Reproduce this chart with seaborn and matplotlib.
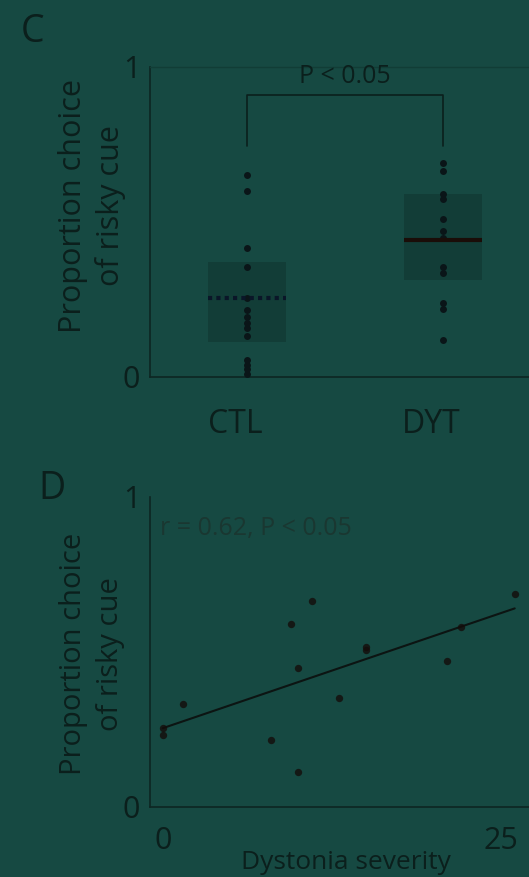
import numpy as np
import pandas as pd
import seaborn as sns
import matplotlib
matplotlib.use("Agg")
import matplotlib.pyplot as plt
from matplotlib.transforms import ScaledTranslation

# ---------------- data ----------------
groups = ["CTL", "DYT"]
ctl_values = [0.652, 0.60, 0.417, 0.356, 0.254, 0.215, 0.195, 0.175, 0.158,
              0.133, 0.055, 0.04, 0.025, 0.01]
dyt_values = [0.69, 0.665, 0.59, 0.575, 0.51, 0.47, 0.45, 0.355, 0.335,
              0.24, 0.218, 0.12]
box_center = [0.254, 0.442]
box_low = [0.114, 0.313]
box_high = [0.37, 0.59]
bracket_low = 0.745
bracket_high = 0.91

severity = [0, 0, 1.5, 8, 9.5, 10, 10, 11, 13, 15, 15, 21, 22, 26]
risky = [0.254, 0.232, 0.331, 0.216, 0.59, 0.447, 0.114, 0.666, 0.353,
         0.517, 0.506, 0.472, 0.582, 0.687]

# ---------------- style ----------------
BG = "#164942"
BOX = "#123d37"
DARK = "#0b1f1c"
SPINE = "#0d2622"

sns.set_theme(style="white")
plt.rcParams["font.family"] = ["Open Sans", "DejaVu Sans"]
plt.rcParams["axes.facecolor"] = BG
plt.rcParams["figure.facecolor"] = BG

W, H = 529, 877
fig = plt.figure(figsize=(W / 100, H / 100), dpi=100)

def px_axes(left, top, right, bottom):
    return fig.add_axes([left / W, 1 - bottom / H, (right - left) / W, (bottom - top) / H])

# ---------------- panel C ----------------
axC = px_axes(150, 67, 600, 377)
df = pd.DataFrame({"group": ["CTL"] * len(ctl_values) + ["DYT"] * len(dyt_values),
                   "value": ctl_values + dyt_values})
sns.stripplot(data=df, x="group", y="value", order=groups, jitter=False,
              color="#0a1518", size=5, linewidth=0, ax=axC, zorder=3)
axC.bar(range(len(groups)), np.array(box_high) - np.array(box_low), bottom=box_low,
        width=0.4, color=BOX, zorder=1, linewidth=0)
axC.hlines(box_center[0], -0.2, 0.2, colors="#0a1628", linestyles=(0, (1, 1)), lw=3, zorder=4)
axC.hlines(box_center[1], 0.8, 1.2, colors="#1a0d08", lw=3, zorder=4)
axC.plot([0, 0, 1, 1], [bracket_low, bracket_high, bracket_high, bracket_low],
         color=DARK, lw=1.2)
axC.text(0.5, 0.97, "P < 0.05", ha="center", va="center", fontsize=18, color=DARK)
axC.set_xlim(-0.495, 1.8)
axC.set_ylim(0, 1)
axC.set_yticks([0, 0.5, 1])
axC.set_yticklabels(["0", "", "1"])
axC.set_xlabel("")
axC.set_ylabel("")
axC.tick_params(axis="y", direction="in", length=3, width=0.8, color=SPINE,
                labelsize=22, labelcolor=DARK, pad=7)
axC.tick_params(axis="x", direction="in", length=3, width=0.8, color=SPINE,
                labelsize=23, labelcolor=DARK, pad=22)
for lab in axC.get_xticklabels():
    lab.set_transform(lab.get_transform() + ScaledTranslation(-0.12, 0, fig.dpi_scale_trans))
for s in ["left", "bottom"]:
    axC.spines[s].set_color(SPINE)
    axC.spines[s].set_linewidth(1.2)
axC.spines["top"].set_color("#113d36")
axC.spines["top"].set_linewidth(1.0)
axC.spines["right"].set_visible(False)

fig.text(92 / W, 1 - 206 / H, "Proportion choice\nof risky cue", rotation=90,
         ha="center", va="center", fontsize=22, color=DARK, linespacing=1.3)
fig.text(33 / W, 1 - 32 / H, "C", ha="center", va="center", fontsize=27, color=DARK)

# ---------------- panel D ----------------
axD = px_axes(150, 497, 600, 807)
dfD = pd.DataFrame({"severity": severity, "risky": risky})
sns.regplot(data=dfD, x="severity", y="risky", ci=None, ax=axD,
            scatter_kws={"s": 28, "color": "#140c0a", "linewidths": 0, "zorder": 3},
            line_kws={"color": "#0c1412", "lw": 1.5, "zorder": 2})
axD.set_xlim(-0.94, 32.3)
axD.set_ylim(0, 1)
axD.set_yticks([0, 0.5, 1])
axD.set_yticklabels(["0", "", "1"])
axD.set_xticks([0, 5, 10, 15, 20, 25, 30])
axD.set_xticklabels(["0", "", "", "", "", "25", ""])
axD.set_xlabel("")
axD.set_ylabel("")
axD.tick_params(axis="y", direction="in", length=3, width=0.8, color=SPINE,
                labelsize=22, labelcolor=DARK, pad=7)
axD.tick_params(axis="x", direction="in", length=3, width=0.8, color=SPINE,
                labelsize=22, labelcolor=DARK, pad=14)
for s in ["left", "bottom"]:
    axD.spines[s].set_color(SPINE)
    axD.spines[s].set_linewidth(1.2)
axD.spines["top"].set_visible(False)
axD.spines["right"].set_visible(False)
axD.text(10 / 450, 0.9, "r = 0.62, P < 0.05", transform=axD.transAxes,
         ha="left", va="center", fontsize=18, color="#1a3731")

fig.text(92 / W, 1 - 654 / H, "Proportion choice\nof risky cue", rotation=90,
         ha="center", va="center", fontsize=21, color=DARK, linespacing=1.35)
fig.text(52 / W, 1 - 489 / H, "D", ha="center", va="center", fontsize=27, color=DARK)
fig.text(346 / W, 1 - 869 / H, "Dystonia severity", ha="center", va="baseline",
         fontsize=19, color=DARK)

fig.savefig("out.png", dpi=100, facecolor=BG)
